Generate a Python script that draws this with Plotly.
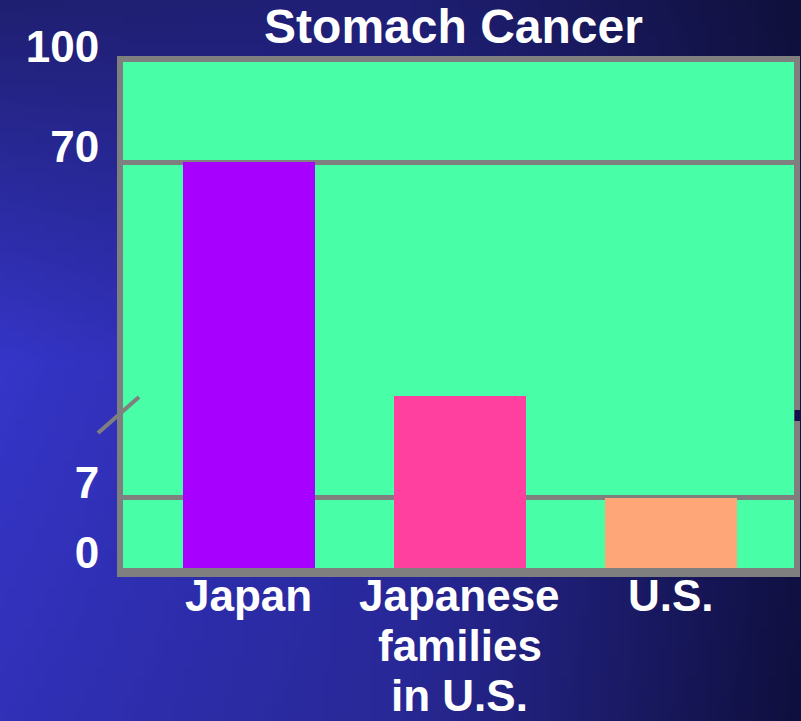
import base64
import struct
import zlib

import numpy as np
import plotly.graph_objects as go

# ---------------- data ----------------
title_text = "Stomach Cancer"
categories = ["Japan", "Japanese<br>families<br>in U.S.", "U.S."]
rates = [70, 26, 7]
bar_colors = ["#A800FF", "#FF409F", "#FFA678"]
tick_values = [0, 7, 70, 100]
tick_labels = ["0", "7", "70", "100"]

# broken (piecewise-linear) value axis, as drawn on the slide
SCALE_VALUES = [0, 7, 70, 100]
SCALE_POS = [0, 70.5, 406, 506]


def scale(v):
    return np.interp(v, SCALE_VALUES, SCALE_POS)


# ---------------- geometry ----------------
W, H = 801, 721
L, R, T, B = 123, 7, 62, 153
PW, PH = W - L - R, H - T - B
FONT = "Liberation Sans, Arial, sans-serif"
GRAY = "#7f7f7f"
GREEN = "#48FFA8"


def px_x(px):
    return (px - L) / PW


def px_y(py):
    return (H - B - py) / PH


# ---------------- gradient background as PNG ----------------
grid = {
    (0, 0): (31, 31, 114), (1, 0): (31, 31, 118), (2, 0): (16, 16, 60),
    (0, 1): (53, 53, 200), (1, 1): (40, 40, 160), (2, 1): (18, 18, 74),
    (0, 2): (48, 48, 184), (1, 2): (40, 40, 150), (2, 2): (15, 15, 62),
}


def bg_color(fx, fy):
    gx, gy = fx * 2, fy * 2
    ix, iy = min(int(gx), 1), min(int(gy), 1)
    tx, ty = gx - ix, gy - iy
    c = []
    for k in range(3):
        a = grid[(ix, iy)][k] * (1 - tx) + grid[(ix + 1, iy)][k] * tx
        b = grid[(ix, iy + 1)][k] * (1 - tx) + grid[(ix + 1, iy + 1)][k] * tx
        c.append(int(round(a * (1 - ty) + b * ty)))
    return c


def make_png(w, h):
    raw = b""
    for j in range(h):
        row = bytearray([0])
        for i in range(w):
            row += bytes(bg_color(i / (w - 1), j / (h - 1)))
        raw += bytes(row)

    def chunk(tag, data):
        c = struct.pack(">I", len(data)) + tag + data
        return c + struct.pack(">I", zlib.crc32(tag + data) & 0xFFFFFFFF)

    png = b"\x89PNG\r\n\x1a\n"
    png += chunk(b"IHDR", struct.pack(">IIBBBBB", w, h, 8, 2, 0, 0, 0))
    png += chunk(b"IDAT", zlib.compress(raw, 9))
    png += chunk(b"IEND", b"")
    return "data:image/png;base64," + base64.b64encode(png).decode()


bg_uri = make_png(81, 73)

# ---------------- figure ----------------
fig = go.Figure()
fig.add_trace(go.Bar(
    x=list(range(len(categories))),
    y=scale(rates),
    width=0.626,
    marker=dict(color=bar_colors, line=dict(width=0)),
    hoverinfo="skip",
))

annotations = []
for i, cat in enumerate(categories):
    for j, line in enumerate(cat.split("<br>")):
        annotations.append(dict(
            x=i, xref="x", y=px_y(595 + 50 * j), yref="paper",
            text=line, showarrow=False, xanchor="center", yanchor="middle",
            font=dict(family=FONT, size=44, color="white", weight="bold"),
        ))

shapes = [
    # green plot area (drawn over the gradient image, under the grid)
    dict(type="rect", xref="paper", yref="paper", x0=0, x1=1, y0=0, y1=1,
         fillcolor=GREEN, line=dict(width=0), layer="below"),
    # axis-break slash on the left
    dict(type="line", xref="paper", yref="paper",
         x0=px_x(98), y0=px_y(433), x1=px_x(139), y1=px_y(397),
         line=dict(color=GRAY, width=4), layer="above"),
    # gap in the right border at the break
    dict(type="rect", xref="paper", yref="paper",
         x0=px_x(794.5), x1=px_x(801), y0=px_y(421), y1=px_y(410),
         fillcolor="#12124a", line=dict(width=0), layer="above"),
    # heavier bottom edge of the frame
    dict(type="line", xref="paper", yref="paper",
         x0=px_x(117), x1=px_x(800), y0=px_y(575), y1=px_y(575),
         line=dict(color=GRAY, width=4), layer="above"),
]

fig.update_layout(
    width=W, height=H,
    margin=dict(l=L, r=R - 6, t=T, b=B, pad=0),
    paper_bgcolor="#1c1c70",
    plot_bgcolor="rgba(0,0,0,0)",
    showlegend=False,
    bargap=0,
    title=dict(text=title_text, x=453.5 / W, xanchor="center",
               y=1 - 26 / H, yanchor="middle", xref="container", yref="container",
               font=dict(family=FONT, size=48, color="white", weight="bold")),
    images=[dict(source=bg_uri, xref="paper", yref="paper",
                 x=px_x(0), y=px_y(0), sizex=W / PW, sizey=H / PH,
                 xanchor="left", yanchor="top", sizing="stretch", layer="below")],
    annotations=annotations,
    shapes=shapes,
    xaxis=dict(range=[-0.597, 2.583], showticklabels=False, showgrid=False,
               zeroline=False, ticks="", showline=True, linewidth=6,
               linecolor=GRAY, mirror=True, fixedrange=True),
    yaxis=dict(range=[0, 506], tickvals=list(scale(tick_values)), ticktext=tick_labels,
               showgrid=True, gridcolor=GRAY, gridwidth=5, zeroline=False,
               ticks="", showline=True, linewidth=6, linecolor=GRAY, mirror=True,
               ticklabelshift=-15, ticklabelstandoff=9,
               tickfont=dict(family=FONT, size=44, color="white", weight="bold"),
               fixedrange=True),
)

fig.write_html(
    "out.html",
    config={"displayModeBar": False},
    post_script="document.body.style.margin='0';document.body.style.overflow='hidden';",
)
